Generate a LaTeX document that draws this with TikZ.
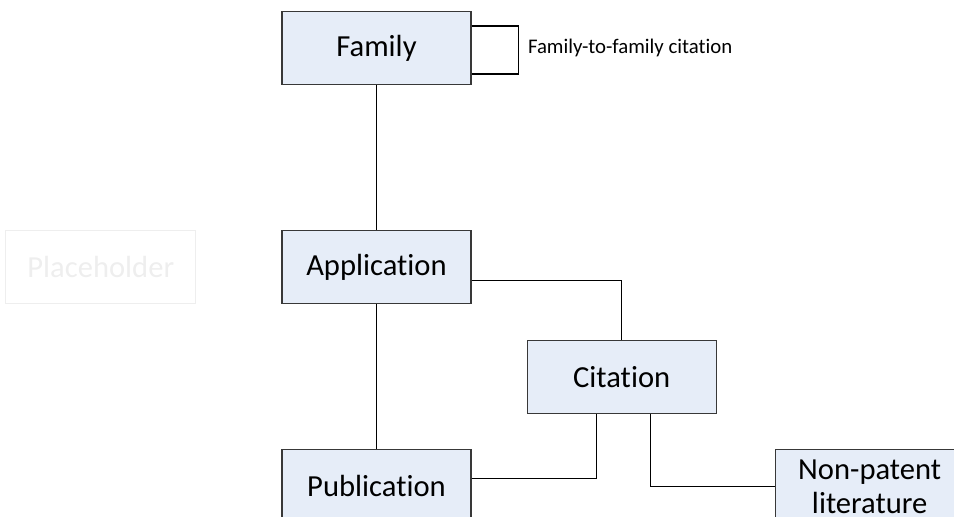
\documentclass[tikz,border=0pt]{standalone}
\usepackage{fontspec}
\setmainfont{Carlito}[RawFeature={-liga}]
\usepackage{tikz}
\usetikzlibrary{positioning, calc}
\definecolor{boxcolor}{RGB}{230, 237, 248}
\definecolor{edgecolor}{RGB}{56, 56, 56}
\definecolor{ghostcolor}{RGB}{238, 238, 238}

\begin{document}
\begin{tikzpicture}[
    node distance=72.5pt and 42.5pt,
    entity/.style={draw=edgecolor, line width=0.6pt, fill=boxcolor, minimum width=94.5pt, minimum height=36.5pt, inner sep=0pt, font=\fontsize{15.3}{17}\selectfont, align=center},
    ghost/.style={draw=ghostcolor, line width=0.6pt, text=ghostcolor, minimum width=95pt, minimum height=36.5pt, inner sep=0pt, font=\fontsize{15.3}{17}\selectfont},
    link/.style={line width=0.55pt},
    label/.style={font=\fontsize{10.4}{12.5}\selectfont, anchor=west, inner sep=0pt}
]
    \useasboundingbox (0,0) rectangle (477pt,-258.5pt);

    % Main entities
    \node[entity] (family) at (188.25pt,-24pt) {Family};
    \node[entity, below=of family] (application) {Application};
    \node[ghost, left=of application] (placeholder) {Placeholder};
    \node[entity, below right=18pt and 27.5pt of application] (citation) {Citation};
    \node[entity, below=of application] (publication) {Publication};
    \node[entity, right=151.5pt of publication] (nonpatent) {Non-patent\\literature};

    % Relationships
    \draw[link] ([yshift=11pt]family.east) -- ++(23.5pt,0) |- ([yshift=-13pt]family.east);
    \node[label] (looplabel) at ([xshift=28pt]family.east) {Family-to-family citation};
    \draw[link] (family) -- (application);
    \draw[link] (application) -- (publication);
    \draw[link] ([yshift=-6.75pt]application.east) -| (citation);
    \draw[link] ([yshift=3.75pt]publication.east) -| ([xshift=-12.5pt]citation.south);
    \draw[link] ([xshift=14.5pt]citation.south) |- (nonpatent);

\end{tikzpicture}
\end{document}
